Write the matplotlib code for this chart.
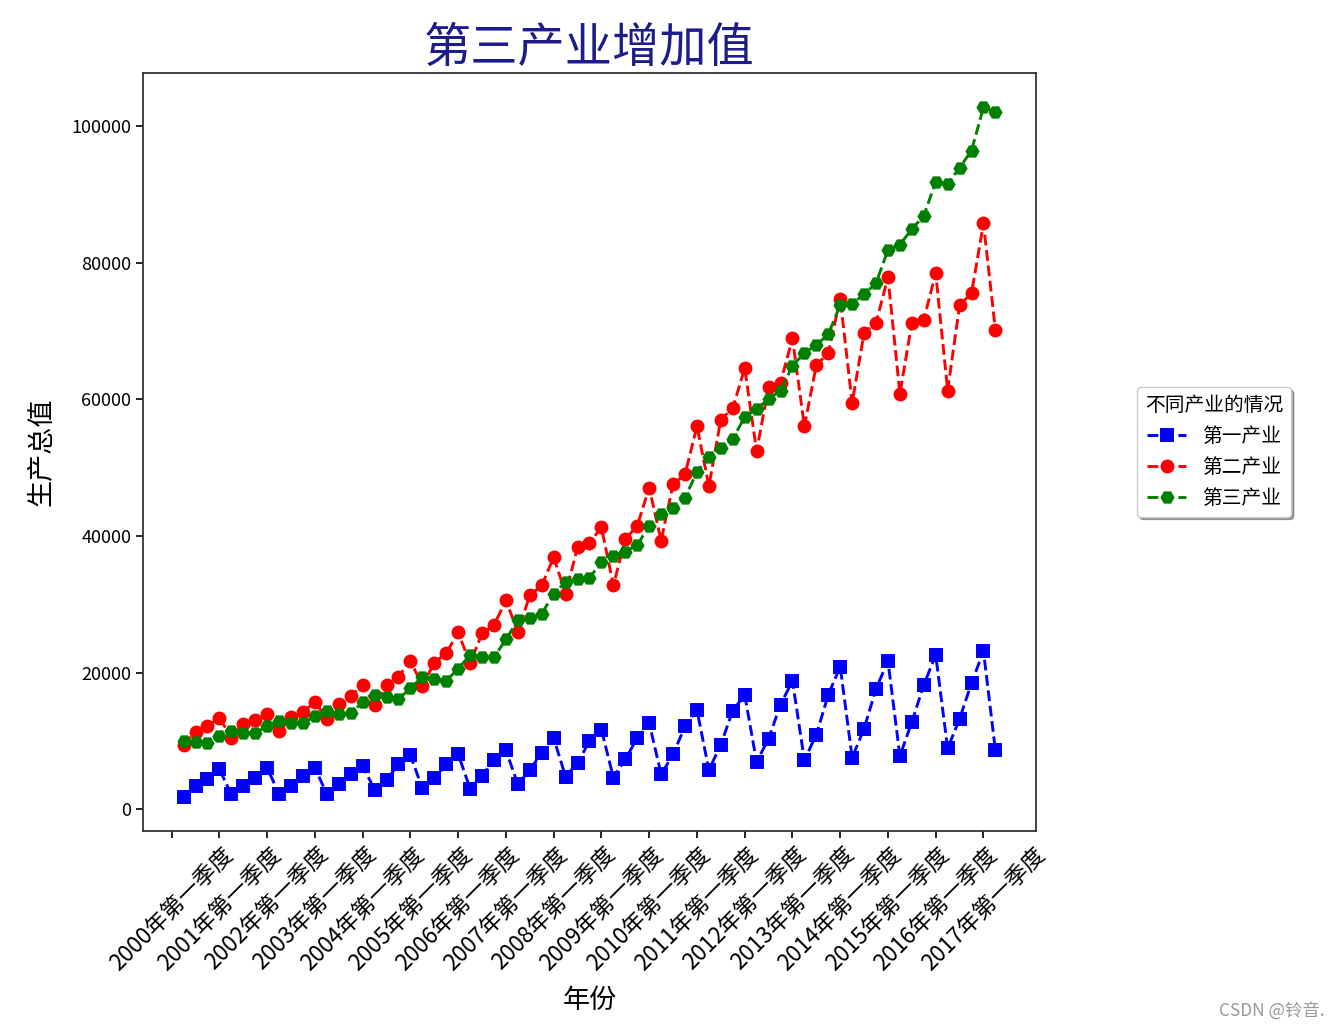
import matplotlib
matplotlib.use("Agg")
import matplotlib.pyplot as plt
import numpy as np

plt.rcParams['font.family'] = ['Noto Sans CJK SC', 'DejaVu Sans']
plt.rcParams['axes.unicode_minus'] = False

# 2000年第一季度 ~ 2017年第一季度, 69 个季度
years = list(range(2000, 2018))
quarter_names = ["第一季度", "第二季度", "第三季度", "第四季度"]
quarters = [f"{y}年{q}" for y in years for q in quarter_names][:69]
idx = np.arange(1, 70)

# 第一产业 (亿元)
primary = [1890, 3440, 4410, 5870, 2230, 3440, 4650, 6110, 2230, 3440,
           4900, 6110, 2230, 3680, 5140, 6350, 2900, 4350, 6590, 7900,
           3100, 4550, 6590, 8100, 3050, 4900, 7250, 8650, 3680, 5800,
           8290, 10420, 4800, 6840, 9950, 11680, 4650, 7320, 10470, 12650,
           5140, 8050, 12170, 14590, 5750, 9500, 14450, 16770, 6930, 10370,
           15320, 18810, 7220, 10960, 16770, 20900, 7560, 11830, 17650, 21720,
           7810, 12800, 18230, 22590, 8920, 13280, 18470, 23170, 8630]
# 第二产业
secondary = [9450, 11380, 12170, 13430, 10520, 12550, 13060, 13910, 11440, 13550,
             14250, 15750, 13280, 15370, 16580, 18230, 15320, 18230, 19440, 21720,
             18130, 21450, 22870, 25900, 21380, 25750, 26960, 30590, 25990, 31320,
             32770, 36900, 31560, 38350, 38980, 41260, 32770, 39560, 41500, 47080,
             39320, 47560, 49020, 56040, 47320, 57020, 58720, 64540, 52410, 61870,
             62450, 68900, 56040, 65020, 66720, 74720, 59450, 69720, 71170, 77860,
             60800, 71170, 71660, 78450, 61280, 73750, 75540, 85720, 70110]
# 第三产业
tertiary = [10080, 9820, 9750, 10710, 11490, 11150, 11200, 12170, 12990, 12650,
            12650, 13620, 14450, 13910, 14110, 15680, 16770, 16390, 16190, 17700,
            19440, 19100, 18810, 20600, 22590, 22350, 22280, 24870, 27680, 28020,
            28650, 31560, 33260, 33650, 33840, 36270, 37140, 37720, 38690, 41500,
            43200, 44170, 45630, 49360, 51590, 52900, 54210, 57410, 58570, 60030,
            61280, 64870, 66810, 67930, 69530, 73750, 73990, 75350, 76990, 81840,
            82620, 84900, 86840, 91830, 91540, 93870, 96390, 102690, 102010]

tick_pos = list(range(0, 70, 4))
tick_labels = [quarters[i] for i in tick_pos]

fig = plt.figure(figsize=(13.34, 10.28), dpi=100)
ax = fig.add_axes([143 / 1334, 1 - 831 / 1028, 893 / 1334, 758 / 1028])

ms = 8.6
lw = 2.1
ax.plot(idx, primary, 'bs--', ms=ms, lw=lw, mew=1.4, label='第一产业')
ax.plot(idx, secondary, 'ro--', ms=ms, lw=lw, mew=1.4, label='第二产业')
ax.plot(idx, tertiary, 'gH--', ms=ms, lw=lw, mew=1.4, label='第三产业')

ax.set_xticks(tick_pos)
ax.set_xticklabels(tick_labels, rotation=45, fontsize=16.3)
ax.tick_params(axis='y', labelsize=13)
ax.tick_params(axis='both', length=5, width=1.2)
for sp in ax.spines.values():
    sp.set_linewidth(1.3)
    sp.set_color('#333333')

ax.set_title('第三产业增加值', fontsize=34, color='#1c1c8c', pad=4)
ax.set_xlabel('年份', fontsize=19.5)
ax.set_ylabel('生产总值', fontsize=19.5)
ax.xaxis.set_label_coords(0.5, -0.206)
ax.yaxis.set_label_coords(-0.098, 0.5)

ax.legend(title='不同产业的情况', loc='center left', bbox_to_anchor=(1.113, 0.5),
          borderaxespad=0, fontsize=14.2, title_fontsize=14.2, shadow=True,
          fancybox=True, edgecolor='0.8', framealpha=1)

fig.text(0.993, 0.008, 'CSDN @铃音.', ha='right', va='bottom', fontsize=12.5, color='#999999')

fig.savefig('out.png', dpi=100)
